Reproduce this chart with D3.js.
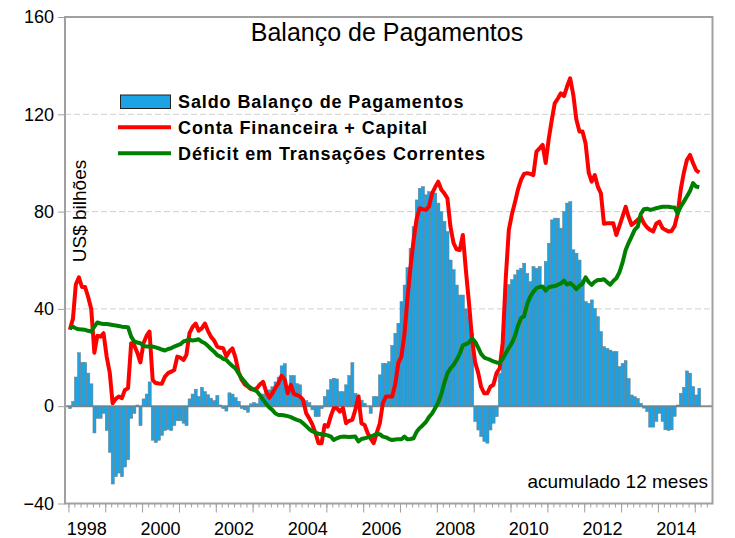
<!DOCTYPE html>
<html>
<head>
<meta charset="utf-8">
<script src="https://cdn.jsdelivr.net/npm/d3@7"></script>
<style>
  body { margin: 0; background: #fff; }
  text { font-family: "Liberation Sans", Arial, sans-serif; fill: #000; }
</style>
</head>
<body>
<svg id="chart" width="735" height="538"></svg>
<script>
/* DATA - monthly, 12-month sums in US$ billions, first value = Jan 1998 */
const startYear = 1998;

// Saldo Balanço de Pagamentos (bars)
const saldo = [
  -1, 2, 12, 22, 18, 18, 13.6, 9.2, -11, -5, -5, -3,                    // 1998
  -10, -19, -32, -29, -27.5, -29, -25, -22, -5, -3, 0.5, -8,            // 1999
  3, 5, 10, -14, -15, -14, -12, -10, -9.6, -10, -8, -6,                 // 2000
  -6, -7, -8, 3, 5, 7, 4, 7.8, 6, 4.7, 3.3, 2.3,                        // 2001
  4.4, 0.5, -1, -2, 5.5, 5, 3.5, 2, -1, -1.5, -2.5, 1,                  // 2002
  1.5, 1, 3.3, 5, 6.5, 6.7, 8, 10, 12, 16.6, 17.5, 8,                   // 2003
  12.6, 12.6, 9.3, 8.8, 2.6, 2.3, 1.5, -1.5, -4.3, -4.3, -1, 4,         // 2004
  6.7, 11, 11.5, 11.2, 6, 6, 8.8, 12.6, 17.9, 5.3, 4.6, 2.5,            // 2005
  1.2, 0, -3, 4, 4, 12.9, 17.6, 17.6, 18.3, 25, 30, 34.1,               // 2006
  43, 49.8, 57, 64.9, 73.8, 84.8, 89.6, 90.3, 86.9, 88.2, 87.6, 87.6,   // 2007
  83.5, 80, 76, 71.8, 60.1, 56.1, 49.8, 45.7, 45.7, 40, 36.8, 30,       // 2008
  -6.3, -9.8, -12.5, -14.5, -15.2, -9.8, -7, -4.3, 13.6, 30, 47, 50,    // 2009
  52, 54, 56, 56.7, 58.8, 54.6, 51.2, 57.4, 56.7, 57.4, 49.2, 59.5,     // 2010
  67, 76.6, 77.3, 77.3, 73.2, 80, 83.5, 84.1, 64.3, 62.9, 60.1, 51.9,   // 2011
  43, 42.3, 43.7, 40.2, 36.8, 30.7, 24.5, 23.8, 23.1, 22.5, 22.5, 16.3, // 2012
  17.6, 18.7, 11.4, 4.6, 3.9, 3.2, 1.2, -0.8, -2.2, -8.6, -8.6, -6.3,   // 2013
  -2.9, -6.3, -9.7, -10, -9.7, -4.2, 0.5, 5.3, 7.8, 14.5, 13.6, 8.1,    // 2014
  4.6, 7.4                                                              // 2015
];

// Conta Financeira + Capital (red line)
const conta = [
  31.4, 36, 50, 53, 49, 49, 45, 40, 22, 29, 28.6, 30,
  20.4, 13.7, 1.2, 3, 4, 3.3, 6.7, 7.4, 25.9, 25, 22, 18,
  25.9, 29, 30.7, 10.8, 9.5, 9.3, 9.2, 12.2, 13.6, 14.2, 14.9, 20.4,
  20, 19, 21, 30, 32.5, 34, 31, 32, 34, 31, 28.5, 27,
  24.5, 24, 23.8, 20.5, 22.5, 23.8, 20, 14, 10.8, 9, 8, 7,
  6.7, 7.5, 9, 10, 6, 3.5, 5.3, 7.5, 9.5, 12.5, 11, 5.3,
  8.8, 5, 4.6, 4, 2.6, -2.9, -5, -7.5, -11.1, -15.2, -15.2, -7.7,
  -8.4, -4, -0.8, -0.8, -2.2, -0.8, -7, -6, -5.6, -1.5, 4, -7,
  -7.7, -11.1, -13.2, -15.2, -11.1, -7, 1.2, 4, 4, 4, 9, 17.7,
  20.4, 30, 44, 57, 68, 77, 81.4, 81, 80.7, 82, 87.5, 90,
  92.3, 89, 87.5, 85.5, 73.8, 67, 64.5, 64.2, 70.4, 56, 42.3, 28,
  18, 13.6, 8, 5.3, 5.3, 8, 8.8, 13.6, 15.6, 26, 53, 72.5,
  79, 84, 89, 93, 95.5, 95.8, 95.5, 95, 104.7, 106, 107.4, 100,
  110, 118, 124.5, 126.5, 128.6, 127.5, 131.4, 134.8, 128, 118, 112.9, 112.9,
  108, 96, 92.3, 95, 90.3, 87.5, 75, 75.2, 75.2, 75.2, 70.4, 74,
  77.9, 82, 78, 74.5, 75.5, 76.6, 77.9, 75.2, 73.5, 72.5, 71.8, 75,
  75.9, 73.2, 72.5, 71.8, 72, 74, 79, 89, 96, 101.2, 103.3, 100,
  97, 96
];

// Déficit em Transações Correntes (green line)
const deficit = [
  32, 32.7, 32, 31.6, 31.5, 31.4, 31, 30.7, 32.7, 34.4, 34, 33.8,
  33.8, 33.6, 33.4, 33.2, 33, 32.7, 32.6, 32.5, 28.6, 26.6, 26.2, 25.9,
  24.8, 24.5, 24.5, 24.5, 24.2, 23.8, 23.3, 22.9, 23.5, 23.8, 24.5, 25,
  25.5, 26.6, 27, 27.3, 27, 27.2, 27.5, 26.5, 25.9, 24.8, 23.5, 22.4,
  21, 20.4, 19.5, 19, 17.7, 16.5, 15.5, 13.5, 11.5, 10, 8.5, 7.5,
  6.8, 6, 4.5, 2.6, 1, -0.5, -1.5, -3, -3.6, -3.6, -3.8, -4.1,
  -4.5, -5.1, -5.6, -6, -7, -8.2, -9.4, -10.3, -10.9, -11.3, -11.5, -11.7,
  -12, -12.5, -13.9, -13.2, -12.7, -12.5, -12.6, -12.7, -12.6, -12.5, -14.5, -13.5,
  -13.2, -12.8, -12.5, -12, -11.4, -11.5, -12.5, -12.8, -13.5, -13.9, -13.7, -13.6,
  -13.6, -12.5, -13.6, -13.5, -13.2, -10.5, -9, -7.8, -6.5, -4.5, -3, -0.8,
  1.5, 5, 9.5, 13.5, 15.5, 17, 19, 21.5, 25, 25.5, 26.2, 27.9,
  26.5, 24, 21.5, 20, 19.5, 19, 18.4, 18, 17.8, 19.5, 21.8, 24,
  26, 29, 33, 36.2, 37, 42, 45, 47, 48.5, 49, 49.2, 47.5,
  48.9, 49.2, 49.4, 49.9, 50.5, 51.6, 50, 50.6, 49.5, 48.1, 49.5, 50.3,
  53, 51, 49.9, 51.2, 51.9, 51.9, 52.2, 51, 49.9, 51.5, 52.6, 55,
  59, 64.2, 67, 69.7, 72.5, 73.8, 79, 81, 81.2, 80.7, 81, 81.4,
  81.7, 82, 82, 82, 81.8, 81.7, 79.3, 82, 84.1, 86.2, 88.5, 91.7,
  90.3, 90
];

const yTicks = [-40, 0, 40, 80, 120, 160];
const gridValues = [40, 80, 120];
const labelYears = [1998, 2000, 2002, 2004, 2006, 2008, 2010, 2012, 2014];
const seriesNames = ['Saldo Balanço de Pagamentos', 'Conta Financeira + Capital', 'Déficit em Transações Correntes'];

/* LAYOUT */
const svg = d3.select('#chart');
const plotLeft = 65, plotRight = 712.5, plotTop = 17, plotBottom = 503.5;
const barColor = '#1ba3e6', redColor = '#ff0000', greenColor = '#008000';

const x = d3.scaleTime()
  .domain([new Date(1997, 10, 28), new Date(2015, 5, 26)])
  .range([plotLeft, plotRight]);
const y = d3.scaleLinear().domain([-40, 160]).range([plotBottom, plotTop]);

const monthStart = i => new Date(startYear, i, 1);
const monthMid = i => new Date(startYear, i, 15);

// dashed grid
svg.append('g')
  .selectAll('line')
  .data(gridValues)
  .join('line')
  .attr('x1', plotLeft).attr('x2', plotRight)
  .attr('y1', d => y(d)).attr('y2', d => y(d))
  .attr('stroke', '#cfcfcf')
  .attr('stroke-width', 1)
  .attr('stroke-dasharray', '6,3');

// zero line
svg.append('line')
  .attr('x1', plotLeft).attr('x2', plotRight)
  .attr('y1', y(0)).attr('y2', y(0))
  .attr('stroke', '#8c8c8c')
  .attr('stroke-width', 2);

// bars
svg.append('g')
  .selectAll('rect')
  .data(saldo)
  .join('rect')
  .attr('x', (d, i) => x(monthStart(i)))
  .attr('width', (d, i) => x(monthStart(i + 1)) - x(monthStart(i)))
  .attr('y', d => y(Math.max(d, 0)))
  .attr('height', d => Math.abs(y(d) - y(0)))
  .attr('fill', barColor)
  .attr('stroke', '#7a7a7a')
  .attr('stroke-width', 0.5);

// lines
const line = d3.line()
  .x((d, i) => x(monthMid(i)))
  .y(d => y(d));

svg.append('path')
  .datum(conta)
  .attr('d', line)
  .attr('fill', 'none')
  .attr('stroke', redColor)
  .attr('stroke-width', 4)
  .attr('stroke-linejoin', 'round');

svg.append('path')
  .datum(deficit)
  .attr('d', line)
  .attr('fill', 'none')
  .attr('stroke', greenColor)
  .attr('stroke-width', 4)
  .attr('stroke-linejoin', 'round');

// frame
svg.append('rect')
  .attr('x', plotLeft).attr('y', plotTop)
  .attr('width', plotRight - plotLeft).attr('height', plotBottom - plotTop)
  .attr('fill', 'none')
  .attr('stroke', '#a0a0a0')
  .attr('stroke-width', 2);

// y axis
const yAxis = svg.append('g')
  .attr('transform', `translate(${plotLeft},0)`)
  .call(d3.axisLeft(y).tickValues(yTicks).tickSize(7).tickPadding(4));
yAxis.select('.domain').remove();
yAxis.selectAll('line').attr('stroke', '#a0a0a0');
yAxis.selectAll('text')
  .style('font-size', '18px')
  .style('font-family', '"Liberation Sans", Arial, sans-serif')
  .attr('fill', '#000');

// x axis: minor ticks every 2 months, major every year
const xMinor = svg.append('g')
  .attr('transform', `translate(0,${plotBottom})`)
  .call(d3.axisBottom(x)
    .tickValues(d3.timeMonth.every(2).range(new Date(1998, 0, 1), new Date(2015, 6, 1)))
    .tickSize(4).tickFormat(''));
xMinor.select('.domain').remove();
xMinor.selectAll('line').attr('stroke', '#a0a0a0');

const xMajor = svg.append('g')
  .attr('transform', `translate(0,${plotBottom})`)
  .call(d3.axisBottom(x)
    .tickValues(d3.timeYear.range(new Date(1998, 0, 1), new Date(2015, 6, 1)))
    .tickSize(9).tickFormat(''));
xMajor.select('.domain').remove();
xMajor.selectAll('line').attr('stroke', '#a0a0a0');

svg.append('g')
  .selectAll('text')
  .data(labelYears)
  .join('text')
  .attr('x', d => x(new Date(d, 6, 1)))
  .attr('y', 535)
  .attr('text-anchor', 'middle')
  .style('font-size', '18px')
  .text(d => d);

// title and notes
svg.append('text')
  .attr('x', 387).attr('y', 41)
  .attr('text-anchor', 'middle')
  .style('font-size', '25px')
  .text('Balanço de Pagamentos');

svg.append('text')
  .attr('transform', 'translate(86,211) rotate(-90)')
  .attr('text-anchor', 'middle')
  .style('font-size', '19px')
  .text('US$ bilhões');

svg.append('text')
  .attr('x', 708).attr('y', 488)
  .attr('text-anchor', 'end')
  .style('font-size', '19px')
  .text('acumulado 12 meses');

// legend
const legend = svg.append('g');
legend.append('rect')
  .attr('x', 120.5).attr('y', 95)
  .attr('width', 50).attr('height', 13.5)
  .attr('fill', barColor)
  .attr('stroke', '#222')
  .attr('stroke-width', 1);
legend.append('line')
  .attr('x1', 118).attr('x2', 171)
  .attr('y1', 127.3).attr('y2', 127.3)
  .attr('stroke', redColor).attr('stroke-width', 4);
legend.append('line')
  .attr('x1', 118).attr('x2', 171)
  .attr('y1', 153.3).attr('y2', 153.3)
  .attr('stroke', greenColor).attr('stroke-width', 4);
legend.selectAll('text.leg')
  .data(seriesNames)
  .join('text')
  .attr('class', 'leg')
  .attr('x', 178)
  .attr('y', (d, i) => 108 + i * 26)
  .style('font-size', '18px')
  .style('font-weight', 'bold')
  .style('letter-spacing', '0.9px')
  .text(d => d);
</script>
</body>
</html>
